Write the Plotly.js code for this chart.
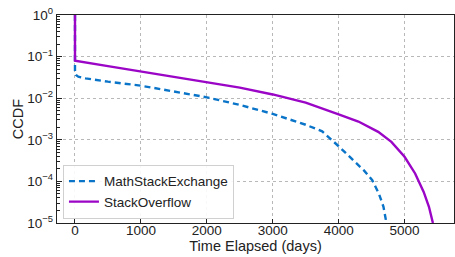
<!DOCTYPE html>
<html>
<head>
<meta charset="utf-8">
<script src="https://cdn.plot.ly/plotly-3.0.1.min.js"></script>
<style>html,body{margin:0;padding:0;background:#fff;}#chart{width:455px;height:257px;}</style>
</head>
<body>
<div id="chart"></div>
<script>
// Data
var mathDays = [0, 0, 15, 50, 160, 500, 1000, 1500, 2000, 2500, 3000, 3500, 3750, 4000, 4230, 4380, 4510, 4610, 4680, 4725];
var mathCCDF = [1, 0.041, 0.036, 0.033, 0.030, 0.025, 0.020, 0.0145, 0.0105, 0.0069, 0.0042, 0.0023, 0.0016, 0.00070, 0.00032, 0.000186, 0.000107, 0.000051, 0.0000245, 0.00001];
var soDays = [0, 0, 500, 1000, 1500, 2000, 2500, 3000, 3500, 4000, 4300, 4600, 4800, 5000, 5160, 5290, 5370, 5430];
var soCCDF = [1, 0.080, 0.059, 0.044, 0.033, 0.025, 0.018, 0.0123, 0.0078, 0.0041, 0.00275, 0.00155, 0.00089, 0.00039, 0.000155, 0.000056, 0.0000245, 0.00001];
var seriesNames = ["MathStackExchange", "StackOverflow"];
var xTickVals = [0, 1000, 2000, 3000, 4000, 5000];
var yTickVals = [1, 0.1, 0.01, 0.001, 0.0001, 0.00001];
var yTickText = ["10<sup>0</sup>", "10<sup>\u22121</sup>", "10<sup>\u22122</sup>", "10<sup>\u22123</sup>", "10<sup>\u22124</sup>", "10<sup>\u22125</sup>"];

var minorVals = [];
for (var e = -5; e < 0; e++) {
  for (var m = 2; m <= 9; m++) minorVals.push(m * Math.pow(10, e));
}

var font = "Liberation Sans, Arial, sans-serif";
var traces = [
  {x: mathDays, y: mathCCDF, name: seriesNames[0], mode: "lines",
   line: {color: "#0a74c8", width: 2.4, dash: "6px,4px"}},
  {x: soDays, y: soCCDF, name: seriesNames[1], mode: "lines",
   line: {color: "#9a05c6", width: 2.4}}
];
var layout = {
  width: 455, height: 257,
  margin: {l: 57, r: 1, t: 15, b: 34},
  paper_bgcolor: "#fff", plot_bgcolor: "#fff",
  font: {family: font, size: 13.5, color: "#222"},
  showlegend: true,
  legend: {x: 0.015, y: 0.02, xanchor: "left", yanchor: "bottom",
           bgcolor: "rgba(255,255,255,0.9)", bordercolor: "#d0d0d0", borderwidth: 1,
           font: {family: font, size: 13.5, color: "#222"}, tracegroupgap: 0, itemwidth: 30},
  xaxis: {range: [-273, 5750], tickvals: xTickVals, ticktext: xTickVals.map(String),
          ticks: "inside", ticklen: 4, tickcolor: "#222", showline: true, mirror: true,
          linecolor: "#222", linewidth: 1.2, zeroline: false,
          showgrid: true, gridcolor: "#b8b8b8", griddash: "dot", gridwidth: 1,
          tickfont: {size: 13.5}, ticklabelstandoff: -5,
          title: {text: "Time Elapsed (days)", font: {size: 14.5}, standoff: 2}},
  yaxis: {type: "log", range: [-5, 0], tickvals: yTickVals, ticktext: yTickText,
          ticks: "inside", ticklen: 5, tickcolor: "#222", showline: true, mirror: true,
          linecolor: "#222", linewidth: 1.2, zeroline: false,
          showgrid: true, gridcolor: "#b8b8b8", griddash: "dot", gridwidth: 1,
          tickfont: {size: 13.5},
          minor: {tickvals: minorVals, ticks: "inside", ticklen: 3, tickcolor: "#222", showgrid: false},
          title: {text: "CCDF", font: {size: 14.5}, standoff: 0}}
};
Plotly.newPlot("chart", traces, layout, {staticPlot: true, displayModeBar: false});
</script>
</body>
</html>
